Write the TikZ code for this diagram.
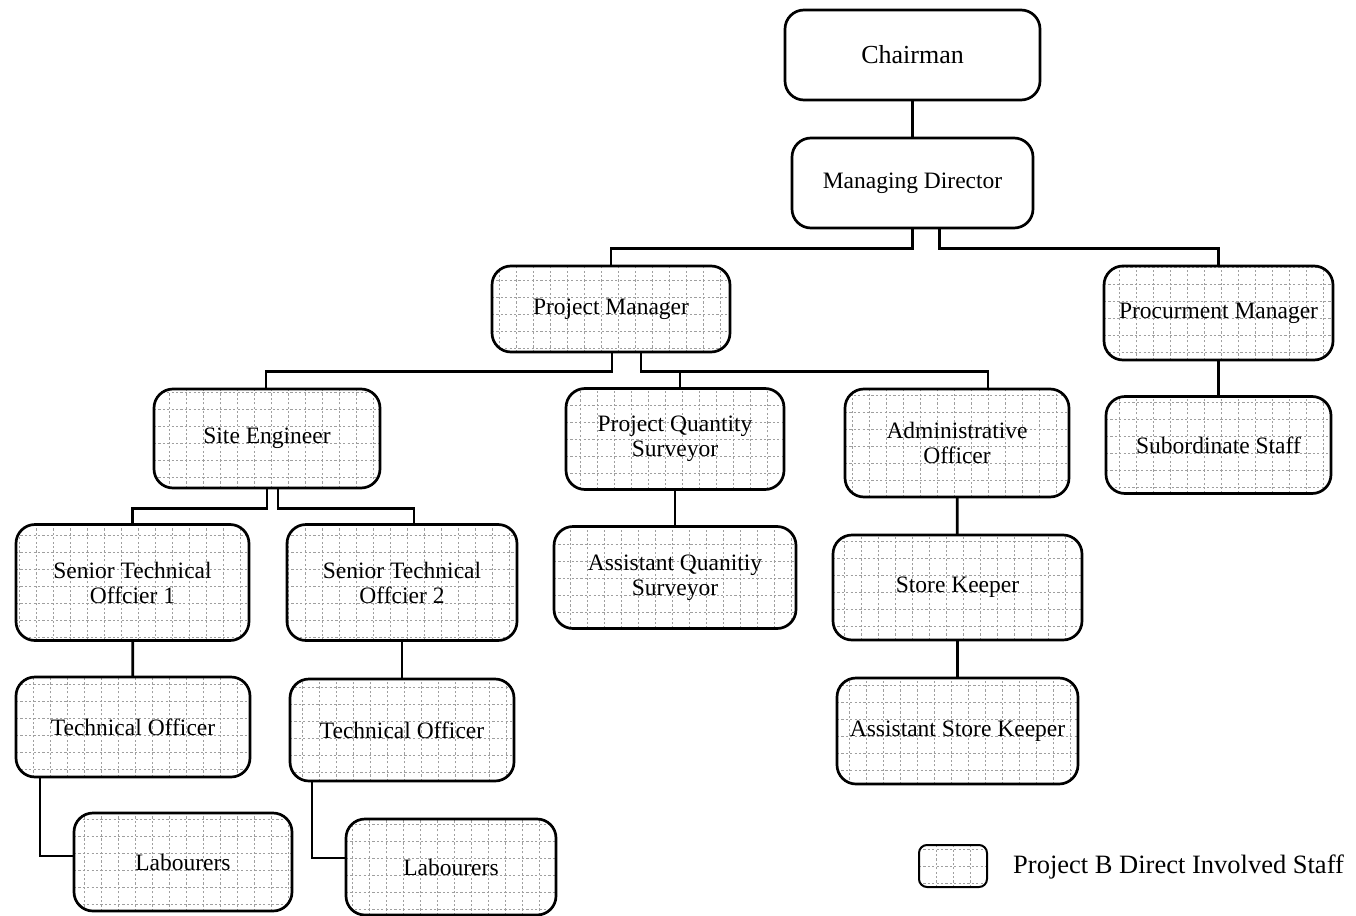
\documentclass[tikz,border=0pt]{standalone}
\usepackage{fontspec}
\setmainfont{Liberation Serif}
\begin{document}
\begin{tikzpicture}[x=1pt,y=-1pt,
  box/.style={draw=black,line width=2.7pt,rounded corners=19pt,fill=white,
    align=center,inner sep=0pt,font=\fontsize{23.5}{25}\selectfont},
  staff/.style={box,path picture={
    \draw[gray!75,line width=0.8pt,dash pattern=on 2.2pt off 2.2pt]
      (path picture bounding box.north west) grid[step=17pt]
      (path picture bounding box.south east);}},
  link/.style={line width=2.7pt,line cap=rect}]
\useasboundingbox (0,0) rectangle (1356,915);

% top management
\node[box,minimum width=255pt,minimum height=90pt,font=\fontsize{26}{28}\selectfont] (ch) at (912.5,55) {Chairman};
\node[box,minimum width=241pt,minimum height=90pt] (md) at (912.5,183) {Managing Director};

% second level
\node[staff,minimum width=238pt,minimum height=86pt] (pm) at (611,309) {Project Manager};
\node[staff,minimum width=229pt,minimum height=94pt] (proc) at (1218.5,313) {Procurment Manager};
\node[staff,minimum width=225pt,minimum height=97pt] (sub) at (1218.5,445) {Subordinate Staff};

% project team
\node[staff,minimum width=226pt,minimum height=99pt] (se) at (267,438.5) {Site Engineer};
\node[staff,minimum width=218pt,minimum height=101pt] (pqs) at (675,439) {Project Quantity\\Surveyor};
\node[staff,minimum width=224pt,minimum height=108pt] (ao) at (957,443) {Administrative\\Officer};
\node[staff,minimum width=242pt,minimum height=102pt] (aqs) at (675,577.5) {Assistant Quanitiy\\Surveyor};
\node[staff,minimum width=249pt,minimum height=105pt] (sk) at (957.5,587.5) {Store Keeper};
\node[staff,minimum width=241pt,minimum height=106pt] (ask) at (957.5,731) {Assistant Store Keeper};

% site staff
\node[staff,minimum width=233pt,minimum height=116pt] (stoa) at (132.5,582.5) {Senior Technical\\Offcier 1};
\node[staff,minimum width=230pt,minimum height=116pt] (stob) at (402,582.5) {Senior Technical\\Offcier 2};
\node[staff,minimum width=234pt,minimum height=100pt] (toa) at (133,727) {Technical Officer};
\node[staff,minimum width=224pt,minimum height=102pt] (tob) at (402,730) {Technical Officer};
\node[staff,minimum width=218pt,minimum height=98pt] (laba) at (183,862) {Labourers};
\node[staff,minimum width=210pt,minimum height=96pt] (labb) at (451,867) {Labourers};

% legend
\node[staff,rounded corners=8pt,line width=2pt,minimum width=68pt,minimum height=42pt] (key) at (953,866) {};
\node[anchor=west,inner sep=0pt,font=\fontsize{26.5}{28}\selectfont] (keytext) at (1013,867) {Project B Direct Involved Staff};

% connectors
\draw[link] (ch) -- (md);
\draw[link] (md.south) -- ++(0,19) -| (pm.north);
\draw[link] ([xshift=27pt]md.south) -- ++(0,19) -| (proc.north);
\draw[link] (proc) -- (sub);
\draw[link] ([xshift=1pt]pm.south) -- ++(0,18) -| ([xshift=-1pt]se.north);
\draw[link] ([xshift=30pt]pm.south) -- ++(0,18) -| ([xshift=5pt]pqs.north);
\draw[link] ([xshift=30pt]pm.south) -- ++(0,18) -| ([xshift=31pt]ao.north);
\draw[link] (se.south) -- ++(0,19) -| (stoa.north);
\draw[link] ([xshift=11pt]se.south) -- ++(0,19) -| ([xshift=12pt]stob.north);
\draw[link] (pqs) -- (aqs);
\draw[link] (ao) -- (sk);
\draw[link] (sk) -- (ask);
\draw[link] (stoa) -- (toa);
\draw[link] (stob) -- (tob);
\draw[link] ([xshift=-93pt]toa.south) |- ([yshift=6pt]laba.west);
\draw[link] ([xshift=-90pt]tob.south) |- ([yshift=9pt]labb.west);
\end{tikzpicture}
\end{document}
